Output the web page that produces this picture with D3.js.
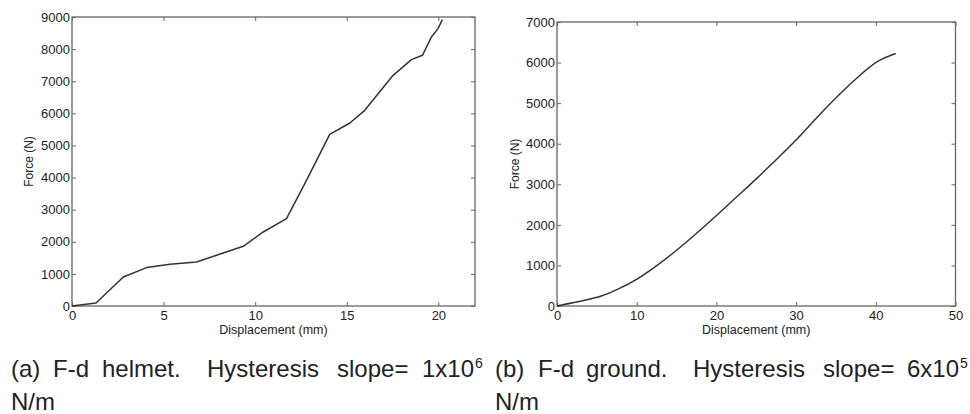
<!DOCTYPE html>
<html>
<head>
<meta charset="utf-8">
<script src="https://cdn.jsdelivr.net/npm/d3@7"></script>
<style>
  body { margin: 0; background: white; }
  text { font-family: "Liberation Sans", Arial, sans-serif; fill: #222; }
</style>
</head>
<body>
<div id="container"></div>
<script>
let w = 970;
let h = 414;

// (a) helmet
let helmetDisp  = [0, 1.31, 2.8, 4.07, 5.35, 6.8, 7.89, 9.35, 10.44, 11.71, 12.8, 14.07, 15.17, 15.98, 17.53, 18.53, 19.13, 19.62, 19.98, 20.22];
let helmetForce = [0, 93, 903, 1196, 1299, 1371, 1579, 1859, 2305, 2722, 3914, 5347, 5699, 6094, 7184, 7673, 7807, 8377, 8638, 8918];
let helmetXTicks = [0, 5, 10, 15, 20];
let helmetYTicks = [0, 1000, 2000, 3000, 4000, 5000, 6000, 7000, 8000, 9000];

// (b) ground
let groundDisp  = [0, 3.56, 5.65, 7.74, 10.04, 12.34, 14.44, 16.95, 19.87, 22.8, 24.9, 27.4, 29.9, 32.4, 35.36, 38.3, 40.4, 42.5];
let groundForce = [0, 140, 239, 420, 651, 965, 1278, 1690, 2201, 2737, 3108, 3590, 4056, 4610, 5211, 5747, 6077, 6225];
let groundXTicks = [0, 10, 20, 30, 40, 50];
let groundYTicks = [0, 1000, 2000, 3000, 4000, 5000, 6000, 7000];

let viz = d3.select("#container")
  .append("svg")
    .attr("width", w)
    .attr("height", h)
    .style("background-color", "white")
;

function drawPanel(opts){
  let xScale = d3.scaleLinear().domain(opts.xDomain).range([opts.left, opts.right]);
  let yScale = d3.scaleLinear().domain(opts.yDomain).range([opts.bottom, opts.top]);

  let g = viz.append("g");

  let bottomAxis = d3.axisBottom(xScale).tickValues(opts.xTicks).tickFormat(d3.format("d")).tickSizeInner(-4).tickSizeOuter(0).tickPadding(5);
  let topAxis = d3.axisTop(xScale).tickValues(opts.xTicks).tickSizeInner(-4).tickSizeOuter(0).tickFormat("");
  let leftAxis = d3.axisLeft(yScale).tickValues(opts.yTicks).tickFormat(d3.format("d")).tickSizeInner(-4).tickSizeOuter(0).tickPadding(2);
  let rightAxis = d3.axisRight(yScale).tickValues(opts.yTicks).tickSizeInner(-4).tickSizeOuter(0).tickFormat("");

  g.append("g").attr("transform", "translate(0," + opts.bottom + ")").call(bottomAxis);
  g.append("g").attr("transform", "translate(0," + opts.top + ")").call(topAxis);
  g.append("g").attr("transform", "translate(" + opts.left + ",0)").call(leftAxis);
  g.append("g").attr("transform", "translate(" + opts.right + ",0)").call(rightAxis);

  g.selectAll(".domain").remove();
  g.selectAll(".tick line").attr("stroke", "#666").attr("stroke-width", 1);
  g.selectAll(".tick text")
    .attr("font-family", null)
    .attr("font-size", 13)
    .style("font-size", "13px")
    .attr("fill", "#222");

  g.append("rect")
    .attr("x", opts.left)
    .attr("y", opts.top)
    .attr("width", opts.right - opts.left)
    .attr("height", opts.bottom - opts.top)
    .attr("fill", "none")
    .attr("stroke", "#666")
    .attr("stroke-width", 1.3);

  let line = d3.line()
    .x(function(d){ return xScale(d[0]); })
    .y(function(d){ return yScale(d[1]); })
    .curve(opts.curve);

  g.append("path")
    .datum(d3.zip(opts.xs, opts.ys))
    .attr("d", line)
    .attr("fill", "none")
    .attr("stroke", "#333")
    .attr("stroke-width", 1.5)
    .attr("stroke-linejoin", "round");

  g.append("text")
    .text("Displacement (mm)")
    .attr("x", (opts.left + opts.right) / 2)
    .attr("y", 334)
    .attr("text-anchor", "middle")
    .style("font-size", "12.5px");

  g.append("text")
    .text("Force (N)")
    .attr("transform", "translate(" + opts.yLabelX + "," + (opts.top + opts.bottom) / 2 + ") rotate(-90)")
    .attr("text-anchor", "middle")
    .style("font-size", "12px");
}

drawPanel({
  left: 72, right: 475, top: 17, bottom: 306,
  xDomain: [0, 22], yDomain: [0, 9000],
  xTicks: helmetXTicks, yTicks: helmetYTicks,
  xs: helmetDisp, ys: helmetForce,
  curve: d3.curveLinear,
  yLabelX: 33
});

drawPanel({
  left: 557, right: 955.5, top: 22, bottom: 306,
  xDomain: [0, 50], yDomain: [0, 7000],
  xTicks: groundXTicks, yTicks: groundYTicks,
  xs: groundDisp, ys: groundForce,
  curve: d3.curveBasis,
  yLabelX: 519
});

// captions, words spread out like the justified original
function caption(words, sup, supX, line2X){
  let t = viz.append("text").style("font-size", "24px");
  words.forEach(function(wd){
    t.append("tspan").attr("x", wd[1]).attr("y", 377).text(wd[0]);
  });
  viz.append("text").text(sup).attr("x", supX).attr("y", 368).style("font-size", "14px");
  viz.append("text").text("N/m").attr("x", line2X).attr("y", 410).style("font-size", "24px");
}

caption([["(a)", 11], ["F-d", 53], ["helmet.", 102], ["Hysteresis", 207], ["slope=", 337], ["1x10", 422]], "6", 475, 11);
caption([["(b)", 495], ["F-d", 538], ["ground.", 586], ["Hysteresis", 693], ["slope=", 823], ["6x10", 907]], "5", 960, 495);
</script>
</body>
</html>
